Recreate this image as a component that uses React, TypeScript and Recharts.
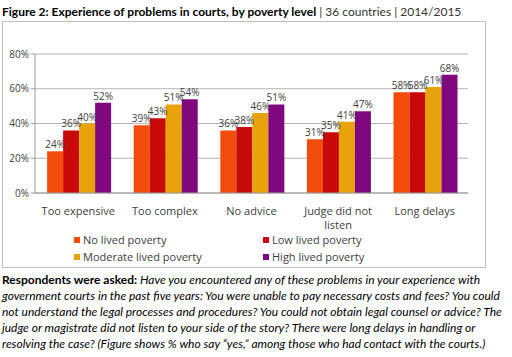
import React from "react";
import { BarChart, Bar, XAxis, YAxis, CartesianGrid, LabelList, Legend } from "recharts";

const categories = ["Too expensive", "Too complex", "No advice", "Judge did not listen", "Long delays"];
const noPoverty = [24, 39, 36, 31, 58];
const lowPoverty = [36, 43, 38, 35, 58];
const moderatePoverty = [40, 51, 46, 41, 61];
const highPoverty = [52, 54, 51, 47, 68];
const yTicks = [0, 20, 40, 60, 80];

const seriesNames = ["No lived poverty", "Low lived poverty", "Moderate lived poverty", "High lived poverty"];
const seriesKeys = ["none", "low", "moderate", "high"];
const colors = ["#F24C0C", "#C80A0A", "#E8A20A", "#80087E"];

const data = categories.map((c, i) => ({
  name: c,
  none: noPoverty[i],
  low: lowPoverty[i],
  moderate: moderatePoverty[i],
  high: highPoverty[i],
}));

const chartFont = "'Open Sans', sans-serif";
const textFont = "Lato, 'Open Sans', sans-serif";

function wrapLabel(s: string, maxChars: number): string[] {
  const words = s.split(" ");
  const lines: string[] = [];
  let cur = "";
  for (const w of words) {
    const next = cur ? cur + " " + w : w;
    if (next.length > maxChars && cur) {
      lines.push(cur);
      cur = w;
    } else {
      cur = next;
    }
  }
  if (cur) lines.push(cur);
  return lines;
}

const XTick = (props: any) => {
  const { x, y, payload } = props;
  const lines = wrapLabel(String(payload.value), 14);
  return (
    <text
      x={x}
      y={y + 4}
      textAnchor="middle"
      fontSize={11}
      fill="#404040"
      fontFamily={chartFont}
    >
      {lines.map((l, i) => (
        <tspan key={i} x={x} dy={i === 0 ? "0.9em" : 14}>
          {l}
        </tspan>
      ))}
    </text>
  );
};

const LegendContent = () => (
  <div
    style={{
      display: "grid",
      gridTemplateColumns: "189px 180px",
      rowGap: 4,
      marginLeft: 71,
      fontFamily: chartFont,
      fontSize: 11,
      color: "#404040",
    }}
  >
    {seriesNames.map((n, i) => (
      <div key={n} style={{ display: "flex", alignItems: "center", height: 13 }}>
        <span style={{ width: 6, height: 6, background: colors[i], display: "inline-block", marginRight: 3 }} />
        {n}
      </div>
    ))}
  </div>
);

export default function App() {
  return (
    <div style={{ position: "absolute", left: 0, top: 0, width: 512, height: 357, background: "#fff", overflow: "hidden" }}>
      <div
        style={{
          position: "absolute",
          left: 2,
          top: 4,
          fontFamily: textFont,
          fontSize: 12,
          color: "#000",
          whiteSpace: "nowrap",
        }}
      >
        <b>Figure 2: Experience of problems in courts, by poverty level</b>
        <span style={{ color: "#333" }}> | 36 countries | 2014/2015</span>
      </div>
      <div
        style={{
          position: "absolute",
          left: 2,
          top: 21,
          width: 484,
          height: 247,
          border: "1px solid #bfbfbf",
          boxSizing: "border-box",
        }}
      >
        <BarChart
          width={482}
          height={245}
          data={data}
          margin={{ top: 32, right: 17, bottom: 0, left: 0 }}
          barCategoryGap="14%"
          barGap={0}
        >
          <CartesianGrid vertical={false} stroke="#b4b4b4" />
          <XAxis
            dataKey="name"
            tick={<XTick />}
            tickLine={false}
            axisLine={{ stroke: "#9a9a9a" }}
            interval={0}
            height={44}
          />
          <YAxis
            domain={[0, 80]}
            ticks={yTicks}
            width={32}
            tickFormatter={(v: number) => `${v}%`}
            tick={{ fontSize: 10, fill: "#404040", fontFamily: chartFont }}
            tickSize={4}
            tickLine={{ stroke: "#9a9a9a" }}
            axisLine={{ stroke: "#9a9a9a" }}
          />
          <Legend verticalAlign="bottom" align="left" content={<LegendContent />} wrapperStyle={{ bottom: 4 }} />
          {seriesKeys.map((k, i) => (
            <Bar key={k} dataKey={k} name={seriesNames[i]} fill={colors[i]} isAnimationActive={false}>
              <LabelList
                dataKey={k}
                position="top"
                offset={3}
                formatter={(v: any) => `${v}%`}
                style={{ fontSize: 10, fill: "#404040", fontFamily: chartFont }}
              />
            </Bar>
          ))}
        </BarChart>
      </div>
      <div
        style={{
          position: "absolute",
          left: 2,
          top: 272,
          width: 510,
          fontFamily: textFont,
          fontSize: 12,
          lineHeight: "16px",
          color: "#000",
          whiteSpace: "nowrap",
        }}
      >
        <b>Respondents were asked:</b>
        <i> Have you encountered any of these problems in your experience with</i>
        <br />
        <i>government courts in the past five years: You were unable to pay necessary costs and fees? You could</i>
        <br />
        <i>not understand the legal processes and procedures? You could not obtain legal counsel or advice? The</i>
        <br />
        <i>judge or magistrate did not listen to your side of the story? There were long delays in handling or</i>
        <br />
        <i>resolving the case? (Figure shows % who say “yes,” among those who had contact with the courts.)</i>
      </div>
    </div>
  );
}
